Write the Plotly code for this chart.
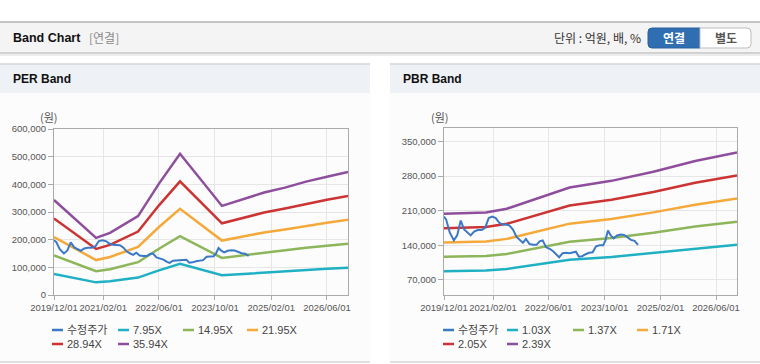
import plotly.graph_objects as go

W, H = 760, 364

# ---------------- data ----------------
per_dates = ["2019-12-01", "2020-12-01", "2021-04-01", "2021-12-01", "2022-06-01", "2022-12-01",
             "2023-12-01", "2024-06-01", "2024-12-01", "2025-06-01", "2025-12-01", "2026-06-01", "2026-12-01"]
per_795 = [75900, 45700, 49700, 63000, 89000, 112900, 71200, 76300, 81900, 85900, 90600, 94600, 98400]
per_1495 = [142800, 86000, 93400, 118600, 167400, 212300, 134000, 143500, 154000, 161500, 170400, 177900, 185100]
per_2195 = [209600, 126200, 137200, 174100, 245800, 311700, 196700, 210700, 226100, 237100, 250200, 261200, 271700]
per_2894 = [276400, 166400, 180900, 229500, 324100, 410900, 259300, 277800, 298100, 312600, 329900, 344400, 358300]
per_3594 = [343200, 206700, 224600, 285000, 402500, 510300, 322000, 345000, 370200, 388200, 409700, 427700, 444900]

pbr_dates = ["2019-12-01", "2020-12-01", "2021-06-01", "2021-12-01", "2022-06-01", "2022-12-01",
             "2023-12-01", "2024-12-01", "2025-12-01", "2026-12-01"]
pbr_103 = [87800, 88900, 92200, 98400, 104000, 110700, 116500, 124400, 133800, 141200]
pbr_137 = [116700, 118200, 122600, 130800, 138400, 147300, 155000, 165500, 178000, 187800]
pbr_171 = [145700, 147600, 153000, 163300, 172700, 183800, 193400, 206600, 222100, 234400]
pbr_205 = [174700, 176900, 183500, 195800, 207100, 220400, 231900, 247600, 266300, 281100]
pbr_239 = [203600, 206300, 213900, 228200, 241400, 256900, 270300, 288700, 310500, 327700]

price_dates = ["2019-12-01", "2019-12-20", "2020-01-20", "2020-02-25", "2020-03-25", "2020-04-25",
               "2020-05-25", "2020-06-25", "2020-07-20", "2020-08-20", "2020-09-20", "2020-10-25",
               "2020-11-25", "2020-12-25", "2021-01-25", "2021-02-25", "2021-03-25", "2021-04-25",
               "2021-05-25", "2021-06-25", "2021-07-25", "2021-08-25", "2021-09-25", "2021-10-20",
               "2021-11-15", "2021-12-15", "2022-01-15", "2022-02-15", "2022-03-15", "2022-04-10",
               "2022-05-10", "2022-06-10", "2022-07-10", "2022-08-10", "2022-09-01", "2022-10-01",
               "2022-11-01", "2022-12-01", "2023-01-01", "2023-01-25", "2023-02-20", "2023-03-20",
               "2023-04-20", "2023-05-20", "2023-06-20", "2023-07-20", "2023-08-20", "2023-09-20",
               "2023-10-10", "2023-11-01", "2023-11-25", "2023-12-20", "2024-01-20", "2024-02-20",
               "2024-03-20", "2024-04-20", "2024-05-20", "2024-06-20", "2024-07-20"]
price = [198000, 192000, 166000, 150000, 160000, 190000,
         172000, 165000, 160000, 168000, 171000, 171000,
         176000, 195000, 198000, 195000, 186000, 182000,
         182000, 180000, 172000, 157000, 150000, 145000,
         153000, 143000, 141000, 141000, 148000, 150000,
         136000, 133000, 128000, 120000, 116000, 124000,
         125000, 124000, 126000, 127000, 117000, 118000,
         122000, 125000, 126000, 138000, 140000, 140000,
         150000, 170000, 160000, 154000, 160000, 162000,
         161000, 155000, 151000, 149000, 141000]

x_tickvals = ["2019-12-01", "2021-02-01", "2022-06-01", "2023-10-01", "2025-02-01", "2026-06-01"]
x_ticktext = ["2019/12/01", "2021/02/01", "2022/06/01", "2023/10/01", "2025/02/01", "2026/06/01"]
per_yticks = [0, 100000, 200000, 300000, 400000, 500000, 600000]
pbr_yticks = [70000, 140000, 210000, 280000, 350000]

per_names = ["수정주가", "7.95X", "14.95X", "21.95X", "28.94X", "35.94X"]
pbr_names = ["수정주가", "1.03X", "1.37X", "1.71X", "2.05X", "2.39X"]
colors = ["#3b78c6", "#1fb0c4", "#8db55a", "#f5a93a", "#cc3333", "#8e4e9c"]

# ---------------- helpers ----------------
def px(x):
    return x / W

def py(y):
    return 1 - y / H

FONT = "Liberation Sans, Arial, Noto Sans CJK KR, sans-serif"
KFONT = "Noto Sans CJK KR, Liberation Sans, sans-serif"

fig = go.Figure()

per_series = [per_795, per_1495, per_2195, per_2894, per_3594]
pbr_series = [pbr_103, pbr_137, pbr_171, pbr_205, pbr_239]

for i, s in enumerate(per_series):
    fig.add_trace(go.Scatter(x=per_dates, y=s, mode="lines", name=per_names[i + 1],
                             line=dict(color=colors[i + 1], width=2.5), xaxis="x", yaxis="y",
                             showlegend=False))
fig.add_trace(go.Scatter(x=price_dates, y=price, mode="lines", name=per_names[0],
                         line=dict(color=colors[0], width=2), xaxis="x", yaxis="y", showlegend=False))

for i, s in enumerate(pbr_series):
    fig.add_trace(go.Scatter(x=pbr_dates, y=s, mode="lines", name=pbr_names[i + 1],
                             line=dict(color=colors[i + 1], width=2.5), xaxis="x2", yaxis="y2",
                             showlegend=False))
fig.add_trace(go.Scatter(x=price_dates, y=price, mode="lines", name=pbr_names[0],
                         line=dict(color=colors[0], width=2), xaxis="x2", yaxis="y2", showlegend=False))

axis_common = dict(showline=True, linecolor="#aaaaaa", linewidth=1, mirror=True,
                   showgrid=True, gridcolor="#e6e6e6", gridwidth=1, zeroline=False, automargin=False,
                   ticks="outside", tickcolor="#aaaaaa", tickfont=dict(size=9.5, color="#555555", family=FONT))

xaxis_common = dict(axis_common, type="date", range=["2019-12-01", "2026-12-01"],
                    tickmode="array", tickvals=x_tickvals, ticktext=x_ticktext, ticklen=4, tickangle=0)

shapes = []
annotations = []

# header band
shapes.append(dict(type="rect", xref="paper", yref="paper", x0=0, x1=1, y0=py(53), y1=py(22),
                   fillcolor="#f4f4f4", line=dict(width=0), layer="below"))
shapes.append(dict(type="line", xref="paper", yref="paper", x0=0, x1=1, y0=py(22), y1=py(22),
                   line=dict(color="#b4b4b4", width=1.5)))
shapes.append(dict(type="line", xref="paper", yref="paper", x0=0, x1=1, y0=py(53), y1=py(53),
                   line=dict(color="#c4c4c4", width=1.5)))
shapes.append(dict(type="line", xref="paper", yref="paper", x0=0, x1=1, y0=py(55), y1=py(55),
                   line=dict(color="#ececec", width=2)))

# panels
for (x0, x1) in [(0, 370), (390, 760)]:
    shapes.append(dict(type="rect", xref="paper", yref="paper", x0=px(x0), x1=px(x1), y0=py(362), y1=py(64),
                       fillcolor="#fcfcfc", line=dict(width=0), layer="below"))
    shapes.append(dict(type="rect", xref="paper", yref="paper", x0=px(x0), x1=px(x1), y0=py(93), y1=py(64),
                       fillcolor="#eef1f6", line=dict(width=0), layer="below"))
    shapes.append(dict(type="line", xref="paper", yref="paper", x0=px(x0), x1=px(x1), y0=py(64), y1=py(64),
                       line=dict(color="#d6d6d6", width=1.5)))
    shapes.append(dict(type="line", xref="paper", yref="paper", x0=px(x0), x1=px(x1), y0=py(362), y1=py(362),
                       line=dict(color="#d6d6d6", width=1.5)))

# buttons
shapes.append(dict(type="path", xref="paper", yref="paper",
                   path=f"M {px(652)},{py(28)} L {px(700)},{py(28)} L {px(700)},{py(48)} L {px(652)},{py(48)} "
                        f"Q {px(648)},{py(48)} {px(648)},{py(44)} L {px(648)},{py(32)} Q {px(648)},{py(28)} {px(652)},{py(28)} Z",
                   fillcolor="#2f6fb1", line=dict(color="#2a62a0", width=1)))
shapes.append(dict(type="path", xref="paper", yref="paper",
                   path=f"M {px(700)},{py(28)} L {px(747)},{py(28)} Q {px(751)},{py(28)} {px(751)},{py(32)} "
                        f"L {px(751)},{py(44)} Q {px(751)},{py(48)} {px(747)},{py(48)} L {px(700)},{py(48)} Z",
                   fillcolor="#ffffff", line=dict(color="#bdbdbd", width=1)))

def ann(x, y, text, size=12, color="#000", bold=False, xanchor="left", family=FONT):
    t = f"<b>{text}</b>" if bold else text
    annotations.append(dict(xref="paper", yref="paper", x=px(x), y=py(y), text=t, showarrow=False,
                            xanchor=xanchor, yanchor="middle", font=dict(size=size, color=color, family=family)))

ann(11, 38, "Band Chart", size=12.5, color="#111", bold=True)
ann(87, 38, "[연결]", size=12, color="#8a8a8a", family=KFONT)
ann(552, 38, "단위 : 억원, 배, %", size=12, color="#333", family=KFONT)
ann(674, 38, "연결", size=12, color="#ffffff", bold=True, xanchor="center", family=KFONT)
ann(725.5, 38, "별도", size=12, color="#555555", bold=True, xanchor="center", family=KFONT)
ann(11, 79, "PER Band", size=12, color="#111", bold=True)
ann(401, 79, "PBR Band", size=12, color="#111", bold=True)
ann(49, 117, "(원)", size=11, color="#555", xanchor="center", family=KFONT)
ann(440, 117, "(원)", size=11, color="#555", xanchor="center", family=KFONT)

# manual legends
def legend(cols, names):
    rows = [330, 344]
    for i, (name, col) in enumerate(zip(names, colors)):
        r = i // 4
        c = i % 4
        x0 = cols[c]
        y = rows[r]
        shapes.append(dict(type="line", xref="paper", yref="paper", x0=px(x0), x1=px(x0 + 11),
                           y0=py(y), y1=py(y), line=dict(color=col, width=2.5)))
        ann(x0 + 13, y, name, size=11, color="#444", family=FONT)

legend([52, 118, 183, 247], per_names)
legend([443, 507, 573, 637], pbr_names)

fig.update_layout(
    width=W, height=H, margin=dict(l=0, r=0, t=0, b=0, autoexpand=False),
    paper_bgcolor="#ffffff", plot_bgcolor="#ffffff",
    font=dict(family=FONT, size=11, color="#555"),
    showlegend=False,
    xaxis=dict(xaxis_common, domain=[px(54), px(348)], anchor="y"),
    yaxis=dict(axis_common, domain=[py(295), py(129)], anchor="x", range=[0, 600000],
               tickmode="array", tickvals=per_yticks, tickformat=",", ticklen=5),
    xaxis2=dict(xaxis_common, domain=[px(444), px(737)], anchor="y2"),
    yaxis2=dict(axis_common, domain=[py(295), py(128)], anchor="x2", range=[39600, 377100],
                tickmode="array", tickvals=pbr_yticks, tickformat=",", ticklen=5),
    shapes=shapes, annotations=annotations,
)

fig.write_html("out.html", config={"displayModeBar": False},
               post_script="document.body.style.margin='0px';document.body.style.overflow='hidden';")
